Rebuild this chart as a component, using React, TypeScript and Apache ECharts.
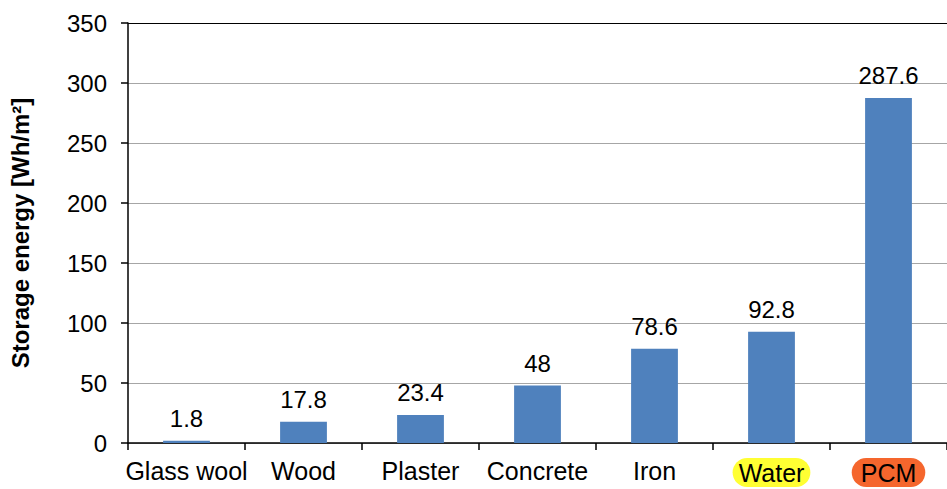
import React, { useEffect, useRef } from "react";
import * as echarts from "echarts";

const categories = ["Glass wool", "Wood", "Plaster", "Concrete", "Iron", "Water", "PCM"];
const values = [1.8, 17.8, 23.4, 48, 78.6, 92.8, 287.6];
const yTicks = { min: 0, max: 350, interval: 50 };

export default function App() {
  const ref = useRef<HTMLDivElement>(null);
  useEffect(() => {
    const chart = echarts.init(ref.current!, null, { renderer: "svg" });
    const font = "'Liberation Sans', Arial, sans-serif";
    chart.setOption({
      animation: false,
      grid: { left: 123, top: 23, width: 834, height: 420, containLabel: false },
      xAxis: {
        type: "category",
        data: categories,
        axisLine: { lineStyle: { color: "#000", width: 1.5 } },
        axisTick: { show: true, length: 7, lineStyle: { color: "#000", width: 1.5 } },
        axisLabel: {
          margin: 15,
          color: "#000",
          fontSize: 25,
          fontFamily: font,
          interval: 0,
          formatter: (v: string) => (v === "Water" ? "{w|" + v + "}" : v === "PCM" ? "{p|" + v + "}" : v),
          rich: {
            w: { backgroundColor: "#ffff33", borderRadius: 16, padding: [2, 6, 2, 6], fontSize: 25, color: "#000", fontFamily: font },
            p: { backgroundColor: "#f5662d", borderRadius: 16, padding: [2, 9, 2, 9], fontSize: 25, color: "#000", fontFamily: font },
          },
        },
      },
      yAxis: {
        type: "value",
        min: yTicks.min,
        max: yTicks.max,
        interval: yTicks.interval,
        name: "Storage energy [Wh/m²]",
        nameLocation: "middle",
        nameGap: 96,
        nameTextStyle: { fontSize: 24, fontWeight: "bold", color: "#000", fontFamily: font },
        axisLine: { show: true, lineStyle: { color: "#000", width: 1.5 } },
        axisTick: { show: true, length: 7, lineStyle: { color: "#000", width: 1.5 } },
        axisLabel: { margin: 21, color: "#000", fontSize: 24, fontFamily: font },
        splitLine: {
          show: true,
          lineStyle: {
            color: ["#a6a6a6", "#a6a6a6", "#a6a6a6", "#a6a6a6", "#a6a6a6", "#a6a6a6", "#a6a6a6", "#000"],
            width: 1.2,
          },
        },
      },
      series: [
        {
          type: "bar",
          data: values,
          barWidth: "40%",
          itemStyle: { color: "#4f81bd" },
          label: { show: true, position: "top", distance: 10, color: "#000", fontSize: 24, fontFamily: font },
        },
      ],
    });
    return () => chart.dispose();
  }, []);
  return <div ref={ref} style={{ width: 947, height: 489, position: "absolute", left: 0, top: 0, background: "#fff" }} />;
}
